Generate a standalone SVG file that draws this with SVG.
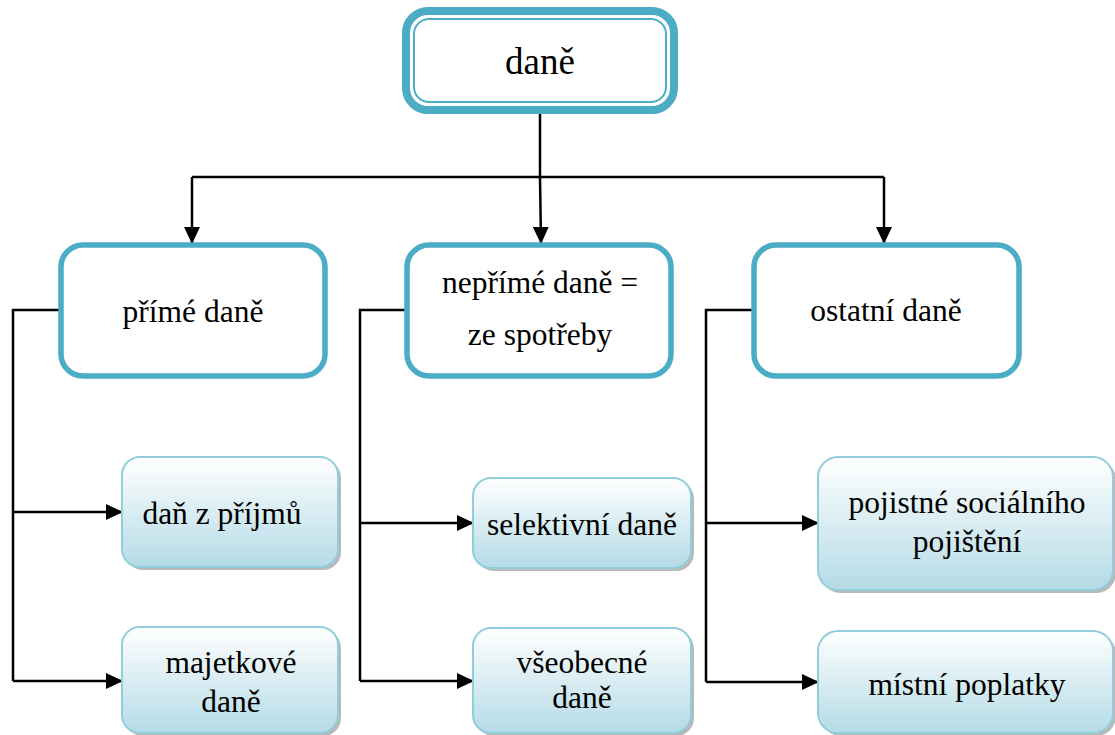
<svg xmlns="http://www.w3.org/2000/svg" width="1115" height="735" viewBox="0 0 1115 735">
<style>
text{fill:#000;text-anchor:middle}
.t{font-size:31.5px}
.mid{fill:#fff;stroke:#4BACC6;stroke-width:5.5}
.leaf{fill:url(#g);stroke:#92CDDC;stroke-width:2}
.sh{fill:#9a9a9a;opacity:0.7}
.c{fill:none;stroke:#000;stroke-width:2.5}
</style>
<defs>
<linearGradient id="g" x1="0" y1="0" x2="0" y2="1">
<stop offset="0" stop-color="#ffffff"/>
<stop offset="1" stop-color="#B4DBE6"/>
</linearGradient>
<marker id="a" markerWidth="17" markerHeight="16" refX="16" refY="8" orient="auto" markerUnits="userSpaceOnUse">
<path d="M0,0 L17,8 L0,16 Z" fill="#000"/>
</marker>
</defs>
<g id="connectors">
<path class="c" d="M540,113 V177"/>
<path class="c" d="M192,177 H884"/>
<path class="c" d="M192,177 V243" marker-end="url(#a)"/>
<path class="c" d="M540,177 L541,243" marker-end="url(#a)"/>
<path class="c" d="M884,177 V243" marker-end="url(#a)"/>
<path class="c" d="M60,310 H13 V681"/>
<path class="c" d="M13,512 H122" marker-end="url(#a)"/>
<path class="c" d="M13,681 H122" marker-end="url(#a)"/>
<path class="c" d="M406,310 H360 V681"/>
<path class="c" d="M360,523 H473" marker-end="url(#a)"/>
<path class="c" d="M360,681 H473" marker-end="url(#a)"/>
<path class="c" d="M753,310 H706 V682"/>
<path class="c" d="M706,523 H818" marker-end="url(#a)"/>
<path class="c" d="M706,682 H818" marker-end="url(#a)"/>
</g>
<g id="root">
<rect x="406" y="11" width="268" height="99" rx="22" fill="#fff" stroke="#4BACC6" stroke-width="8"/>
<rect x="414" y="19" width="252" height="83" rx="15" fill="none" stroke="#4BACC6" stroke-width="2"/>
<text x="540" y="74" font-family="Liberation Serif" font-size="37">daně</text>
</g>
<g id="prime">
<rect class="mid" x="61" y="245" width="264" height="131" rx="22"/>
<text class="t" x="193" y="322" font-family="Liberation Serif">přímé daně</text>
</g>
<g id="neprime">
<rect class="mid" x="407" y="245" width="264" height="131" rx="22"/>
<text class="t" x="540" y="293" font-family="Liberation Serif">nepřímé daně =</text>
<text class="t" x="540" y="345" font-family="Liberation Serif">ze spotřeby</text>
</g>
<g id="ostatni">
<rect class="mid" x="754" y="245" width="265" height="131" rx="22"/>
<text class="t" x="886" y="321" font-family="Liberation Serif">ostatní daně</text>
</g>
<g id="dan-z-prijmu">
<rect class="sh" x="125" y="460" width="216" height="110" rx="18"/>
<rect class="leaf" x="122" y="457" width="216" height="110" rx="18"/>
<text class="t" x="222" y="524" font-family="Liberation Serif">daň z příjmů</text>
</g>
<g id="majetkove">
<rect class="sh" x="125" y="630" width="216" height="106" rx="18"/>
<rect class="leaf" x="122" y="627" width="216" height="106" rx="18"/>
<text class="t" x="231" y="673" font-family="Liberation Serif">majetkové</text>
<text class="t" x="231" y="712" font-family="Liberation Serif">daně</text>
</g>
<g id="selektivni">
<rect class="sh" x="476" y="481" width="218" height="90" rx="18"/>
<rect class="leaf" x="473" y="478" width="218" height="90" rx="18"/>
<text class="t" x="582" y="535" font-family="Liberation Serif">selektivní daně</text>
</g>
<g id="vseobecne">
<rect class="sh" x="476" y="631" width="218" height="105" rx="18"/>
<rect class="leaf" x="473" y="628" width="218" height="105" rx="18"/>
<text class="t" x="582" y="673" font-family="Liberation Serif">všeobecné</text>
<text class="t" x="582" y="708" font-family="Liberation Serif">daně</text>
</g>
<g id="pojistne">
<rect class="sh" x="821" y="460" width="295" height="133" rx="20"/>
<rect class="leaf" x="818" y="457" width="295" height="133" rx="20"/>
<text class="t" x="967" y="513" font-family="Liberation Serif">pojistné sociálního</text>
<text class="t" x="967" y="552" font-family="Liberation Serif">pojištění</text>
</g>
<g id="mistni">
<rect class="sh" x="821" y="634" width="295" height="102" rx="20"/>
<rect class="leaf" x="818" y="631" width="295" height="102" rx="20"/>
<text class="t" x="967" y="695" font-family="Liberation Serif">místní poplatky</text>
</g>
</svg>
